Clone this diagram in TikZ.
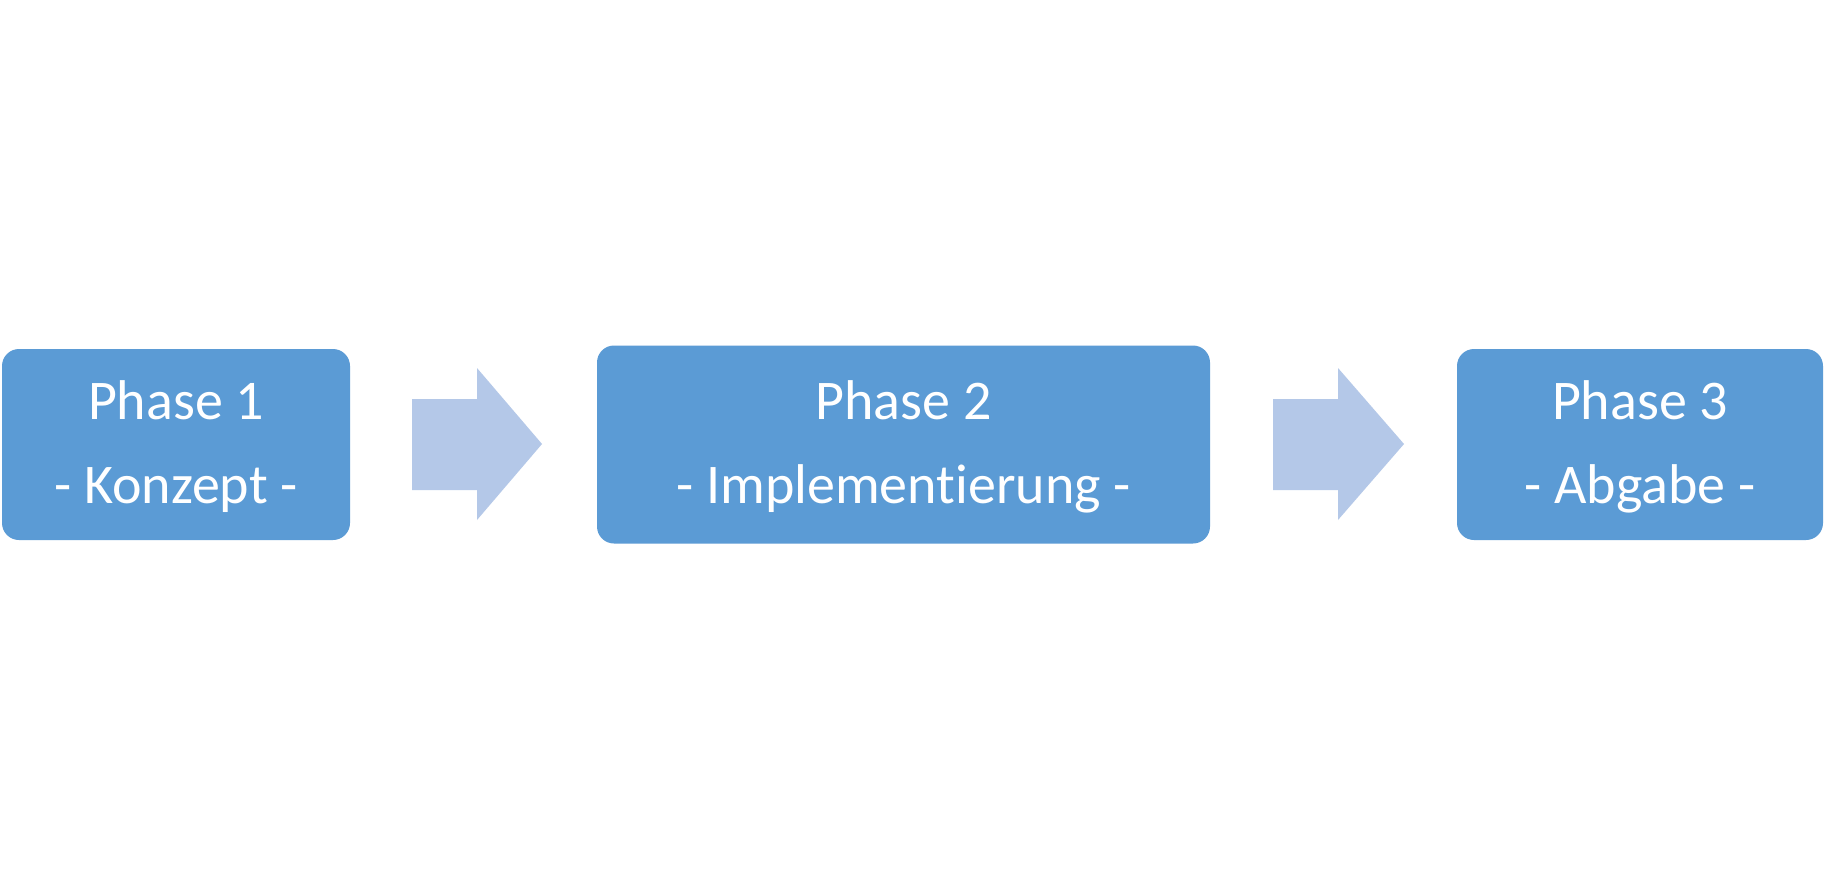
\documentclass[tikz,border=0pt]{standalone}
\usepackage{fontspec}
\setmainfont[Ligatures=NoCommon,RawFeature=-liga]{Carlito}
\definecolor{boxblue}{HTML}{5B9BD5}
\definecolor{arrowblue}{HTML}{B4C8E8}
\begin{document}
\begin{tikzpicture}[x=1pt,y=-1pt,
  phasebox/.style={fill=boxblue,draw=none,rounded corners=17pt,inner sep=0pt},
  label/.style={text=white,anchor=base,inner sep=0pt,font=\fontsize{56}{66}\selectfont},
  blockarrow/.style={fill=arrowblue,draw=none}]
\useasboundingbox[fill=white] (0,0) rectangle (1825,889);
% boxes
\node[phasebox,minimum width=348pt,minimum height=191pt] (b1) at (176,444.5) {};
\node[phasebox,minimum width=613pt,minimum height=198pt] (b2) at (903.5,444.5) {};
\node[phasebox,minimum width=366pt,minimum height=191pt] (b3) at (1640,444.5) {};
% texts
\node[label] (t1a) at (176,419) {Phase 1};
\node[label] (t1b) at (176,503) {- Konzept -};
\node[label] (t2a) at (903.5,419) {Phase 2};
\node[label] (t2b) at (903.5,503) {- Implementierung -};
\node[label] (t3a) at (1640,419) {Phase 3};
\node[label] (t3b) at (1640,503) {- Abgabe -};
% block arrows
\fill[blockarrow] (412,399) -- (477,399) -- (477,368) -- (542,444) -- (477,520) -- (477,490) -- (412,490) -- cycle;
\fill[blockarrow] (1273,399) -- (1338,399) -- (1338,368) -- (1404,444) -- (1338,520) -- (1338,490) -- (1273,490) -- cycle;
\end{tikzpicture}
\end{document}
